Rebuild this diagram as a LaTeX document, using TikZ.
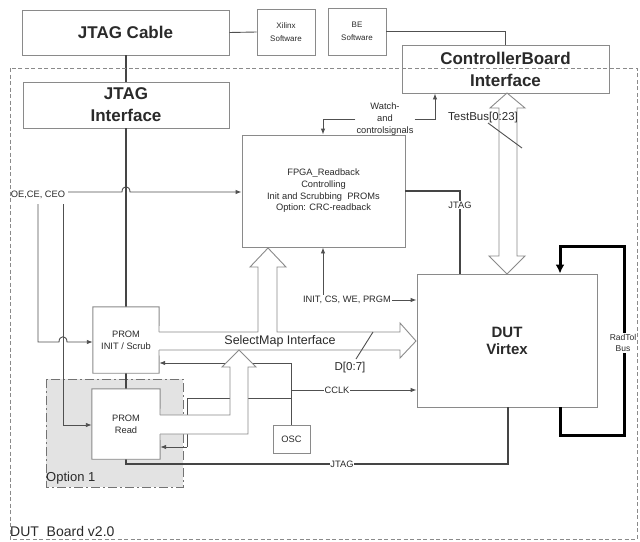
\documentclass[tikz,border=0pt]{standalone}
\usepackage{fontspec}
\setmainfont{Liberation Sans}
\usetikzlibrary{arrows.meta,calc}
\definecolor{boxc}{HTML}{8A8A8A}
\definecolor{linec}{HTML}{505050}
\definecolor{thickc}{HTML}{454545}
\definecolor{txtc}{HTML}{2A2A2A}
\definecolor{optfill}{HTML}{E3E3E3}
\begin{document}
\begin{tikzpicture}[x=1pt,y=-1pt,
  box/.style={draw=boxc,line width=0.9pt,fill=white,inner sep=0pt,text=txtc,align=center},
  nobox/.style={inner sep=0pt,text=txtc,align=center},
  boxl/.style={draw=boxc,line width=0.9pt},
  conn/.style={draw=linec,line width=0.9pt},
  thk/.style={draw=thickc,line width=2pt},
  arr/.style={-{Latex[length=6pt,width=4.5pt]}},
  busl/.style={draw=boxc,line width=0.9pt,line join=miter},
  big/.style={font=\fontsize{17}{22}\selectfont\bfseries},
  dutf/.style={font=\fontsize{15}{17}\selectfont\bfseries},
  sm/.style={font=\fontsize{9.3}{11.7}\selectfont,text=txtc},
  tiny/.style={font=\fontsize{8}{13}\selectfont,text=txtc},
  lab/.style={text=txtc,inner sep=1pt,align=center}]
\useasboundingbox (0,0) rectangle (640,541);
\fill[white] (0,0) rectangle (640,541);

% option 1 region
\filldraw[fill=optfill,draw=linec!80,line width=0.9pt,dash pattern=on 9pt off 3pt on 2pt off 3pt] (46,379) rectangle (183,487);
\node[lab,anchor=west,font=\fontsize{13}{15}\selectfont] (opt) at (45,478) {Option 1};

% boxes
\node[box,big,minimum width=207pt,minimum height=45pt] (jc) at (125.5,32.5) {JTAG Cable};
\node[box,tiny,minimum width=58pt,minimum height=46pt] (xs) at (286,32) {Xilinx\\Software};
\node[box,tiny,minimum width=58pt,minimum height=47pt] (bs) at (357,31.5) {BE\\Software};
\node[box,big,minimum width=207pt,minimum height=48pt] (cb) at (505.5,69) {ControllerBoard\\Interface};
\node[box,big,minimum width=206pt,minimum height=46pt] (ji) at (126,105) {JTAG\\Interface};
\node[box,sm,minimum width=163pt,minimum height=112pt] (fp) at (323.5,191) {FPGA\_Readback\\Controlling\\Init and Scrubbing\ \ PROMs\\Option: CRC-readback};
\node[box,dutf,minimum width=180pt,minimum height=133pt] (dut) at (507,340.5) {DUT\\Virtex};
\node[box,sm,minimum width=37pt,minimum height=28pt] (osc) at (291.5,439) {OSC};
\node[nobox,minimum width=66pt,minimum height=66pt] (pi) at (126,340) {};
\node[nobox,minimum width=68pt,minimum height=70pt] (pr) at (126,424) {};

% thin connectors
\draw[conn] (jc.east) -- (xs.west);
\draw[conn] (bs.east) -| (cb.north);
\node[lab,sm] (oe) at (38,195) {OE,CE, CEO};
\draw[conn,arr] (68,192) -- (122,192) .. controls (122,185) and (130,185) .. (130,192) -- (fp.west |- 0,192);
\draw[conn,arr] (38,204) -- (38,342) -- (59,342) .. controls (59,335) and (67,335) .. (67,342) -- (pi.west |- 0,342);
\draw[conn,arr] (63,204) -- (63,425) -- (pr.west |- 0,425);
\node[lab,sm] (wl) at (385,119) {Watch-\\and\\controlsignals};
\draw[conn,arr] (wl.west) -| (fp.north -| 323,0);
\draw[conn,arr] (wl.east) -| (cb.south -| 435,0);
\node[lab,sm] (il) at (347,300) {INIT, CS, WE, PRGM};
\draw[conn,arr] (il.north -| 323,0) -- (fp.south -| 323,0);
\draw[conn,arr] (il.east) -- (dut.west |- il.east);
\draw[conn,arr] (osc.north -| 291,0) -- (291,363) -- (pi.east |- 0,363);
\draw[conn] (291,398) -- (187,398) -- (187,447);
\draw[conn,arr] (187,447) -- (pr.east |- 0,447);
\draw[conn,arr] (291,390) -- (dut.west |- 0,390);
\node[lab,sm,fill=white,inner sep=0.5pt] (cclk) at (337,390) {CCLK};

% thick JTAG lines
\draw[thk] (jc.south -| 126,0) -- (ji.north -| 126,0);
\draw[thk] (ji.south) -- (pi.north);
\draw[thk] (pi.south) -- (pr.north);
\draw[thk] (pr.south) -- (126,464) -- (508,464) -- (dut.south -| 508,0);
\node[lab,sm,fill=white,inner sep=0.5pt] (jt2) at (342,464) {JTAG};
\draw[thk] (fp.east |- 0,191) -- (460,191) -- (dut.north -| 460,0);
\node[lab,sm,fill=white] (jt1) at (460,205) {JTAG};

% PROM boxes
\fill[white] (pi.north west) rectangle (pi.south east);
\draw[boxl] (159,332) -- (pi.north east) -- (pi.north west) -- (pi.south west) -- (pi.south east) -- (159,350);
\node[nobox,sm] at (pi.center) {PROM\\INIT / Scrub};
\fill[white] (pr.north west) rectangle (pr.south east);
\draw[boxl] (160,415) -- (pr.north east) -- (pr.north west) -- (pr.south west) -- (pr.south east) -- (160,434);
\node[nobox,sm] at (pr.center) {PROM\\Read};

% readback bus
\draw[black,line width=3pt,-{Latex[length=9pt,width=9pt]}] (dut.south -| 560,0) -- (560,435) -- (624,435) -- (624,246) -- (560,246) -- (dut.north -| 560,0);
\node[lab,font=\fontsize{8.5}{11}\selectfont,fill=white,inner sep=1pt] (rbl) at (623,343) {RadTol\\Bus};

% hollow buses
\fill[white] (159,332) -- (258,332) -- (258,267) -- (250,267) -- (268,248) -- (286,267) -- (277,267) -- (277,332) -- (400,332) -- (400,323) -- (416,341) -- (400,358) -- (400,350) -- (159,350) -- cycle;
\draw[busl] (159,332) -- (258,332) -- (258,267) -- (250,267) -- (268,248) -- (286,267) -- (277,267) -- (277,332) -- (400,332) -- (400,323) -- (416,341) -- (400,358) -- (400,350) -- (159,350);
\fill[white] (160,415) -- (230,415) -- (230,367) -- (222,367) -- (239,350) -- (256,367) -- (248,367) -- (248,434) -- (160,434) -- cycle;
\draw[busl] (160,415) -- (230,415) -- (230,367) -- (222,367) -- (239,350) -- (256,367) -- (248,367) -- (248,434) -- (160,434);
\filldraw[busl,fill=white] (499,108) -- (490,108) -- (507,93) -- (525,108) -- (517,108) -- (517,256) -- (525,256) -- (507,274) -- (489,256) -- (499,256) -- cycle;

\node[lab,font=\fontsize{12.5}{14}\selectfont] (sel) at (280,341) {SelectMap Interface};
\node[lab,font=\fontsize{11.5}{14}\selectfont] (dl) at (350,368) {D[0:7]};
\draw[conn] (356,359) -- (373,332);
\node[lab,font=\fontsize{11.5}{14}\selectfont] (tb) at (483,118) {TestBus[0:23]};
\draw[conn] (488,123) -- (522,148);

% DUT board border
\draw[boxc,line width=0.8pt,dash pattern=on 4pt off 2.5pt] (10,68) rectangle (637,539);
\node[lab,anchor=west,font=\fontsize{14}{16}\selectfont] (db) at (9,531) {DUT\ \ Board v2.0};
\end{tikzpicture}
\end{document}
